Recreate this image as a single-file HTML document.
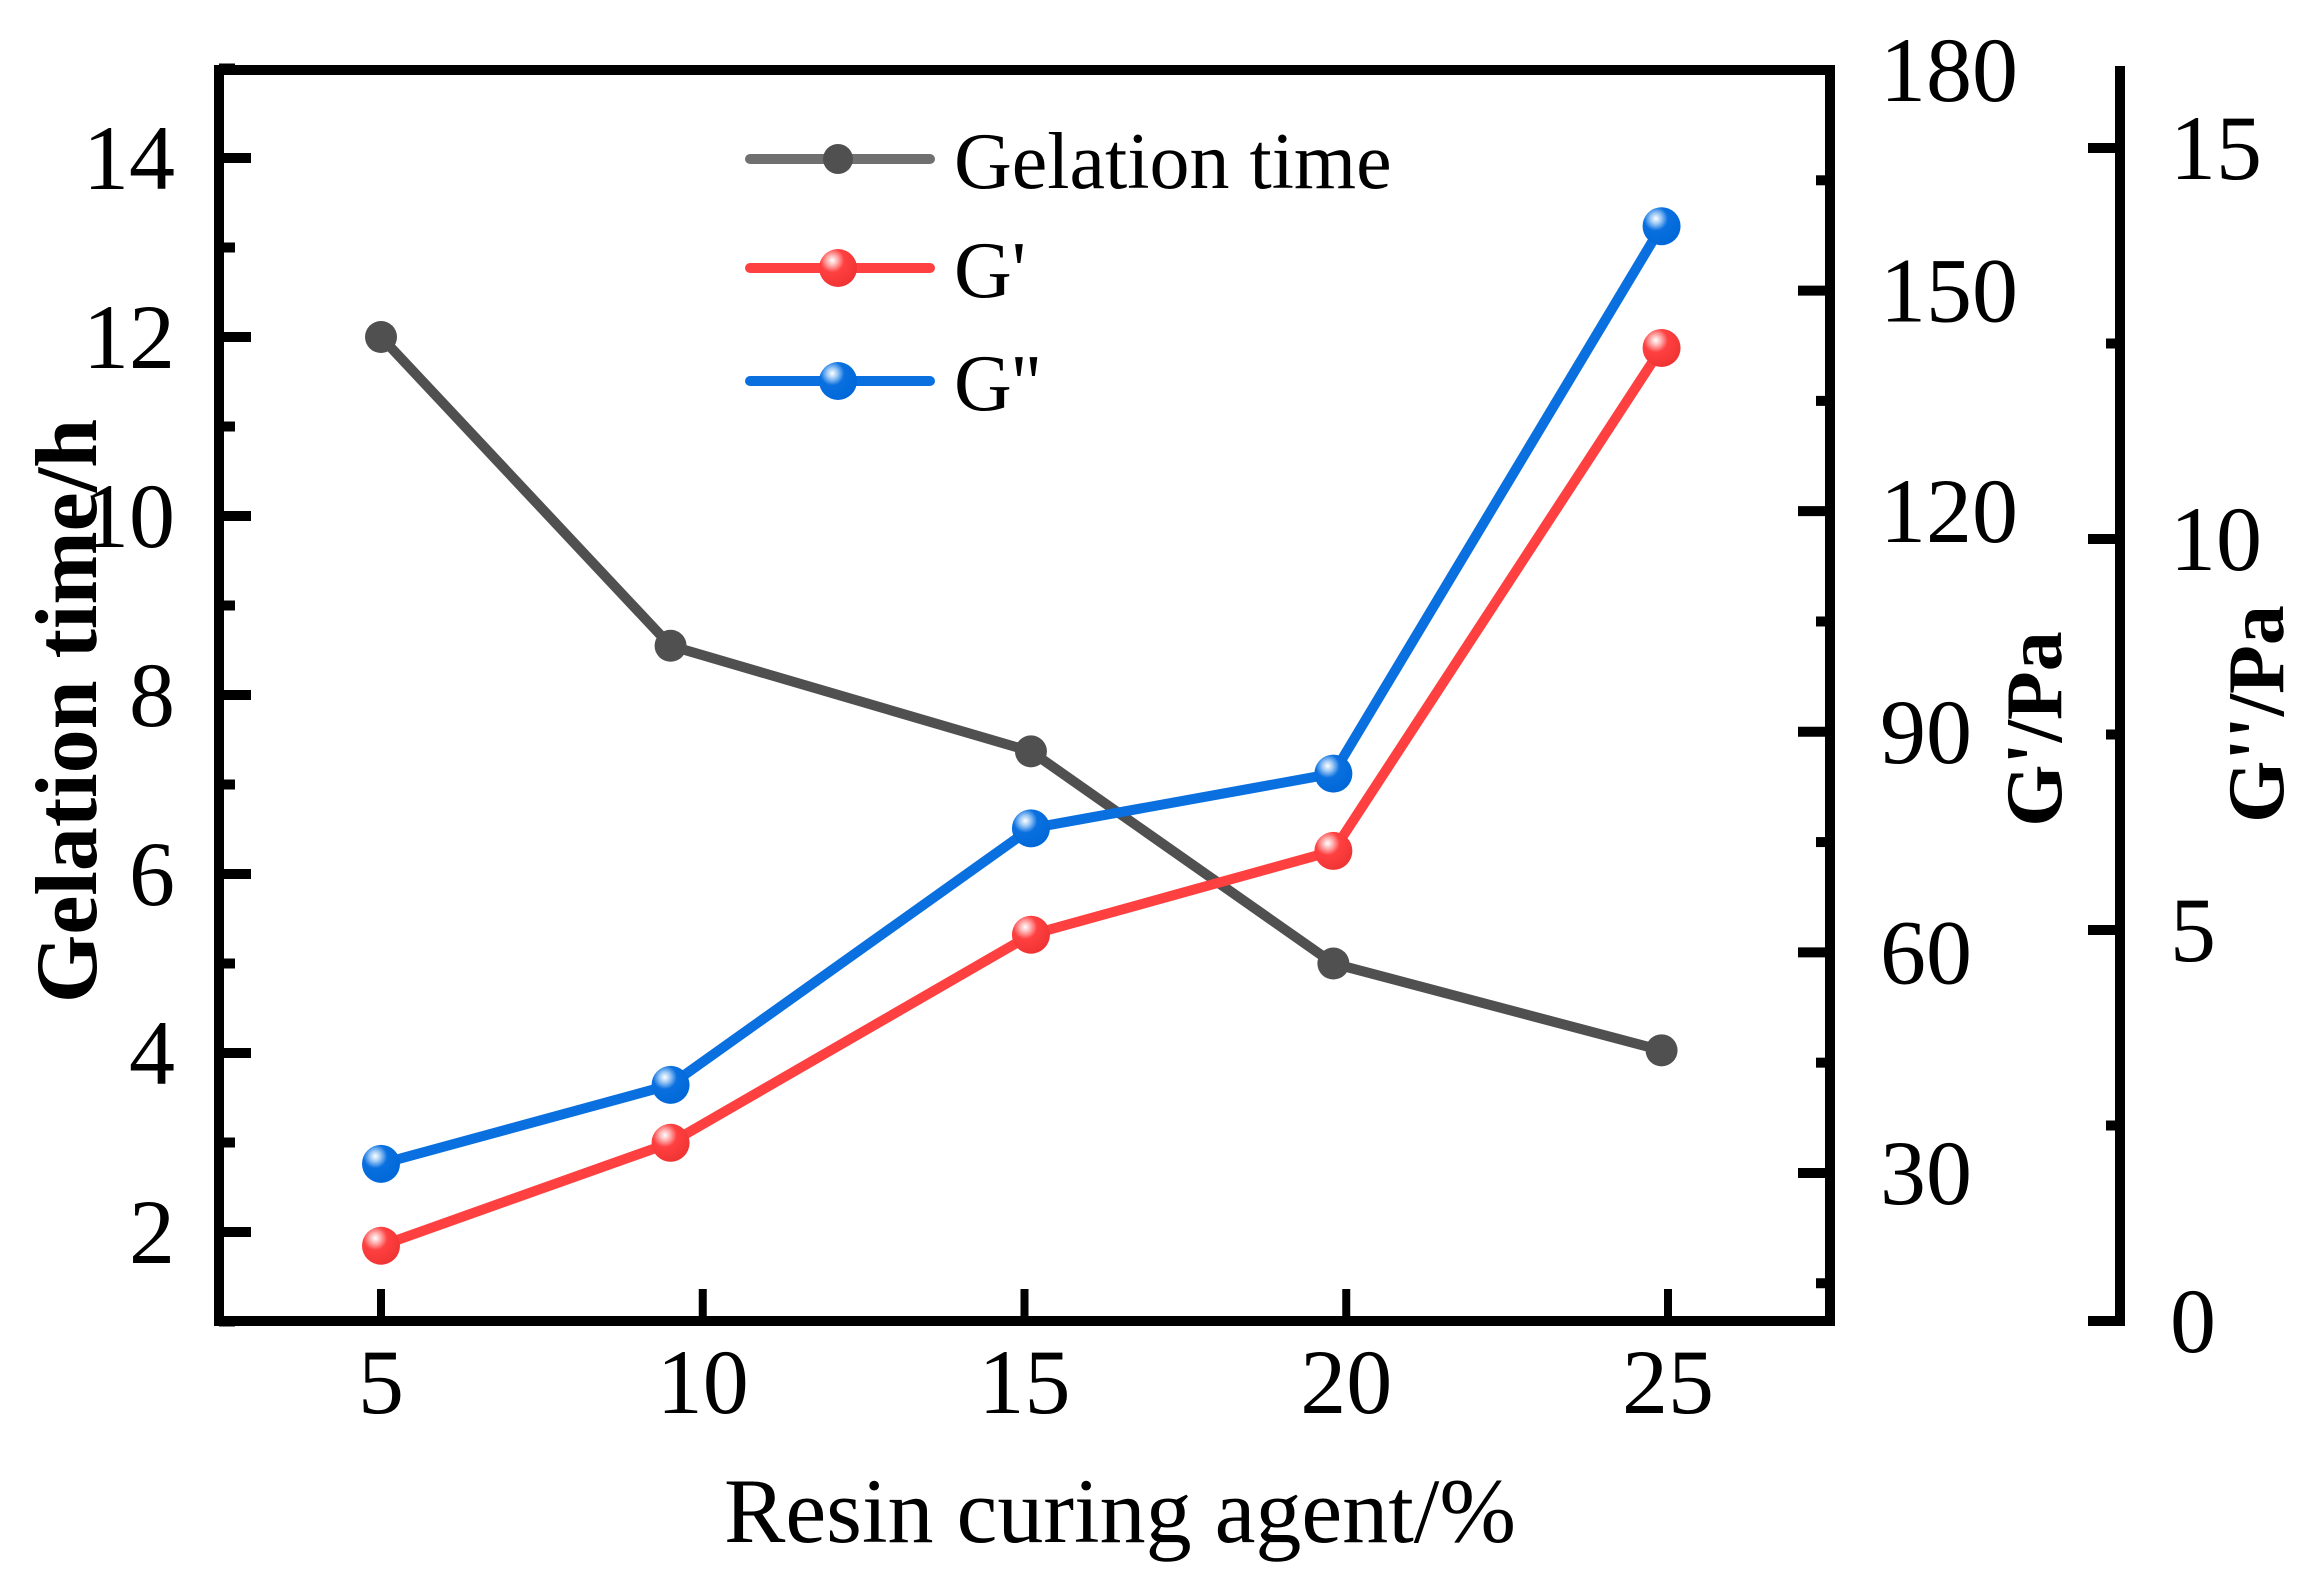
<!DOCTYPE html>
<html><head><meta charset="utf-8"><style>
html,body{margin:0;padding:0;background:#fff;}
svg{display:block;font-family:"Liberation Serif",serif;}
</style></head><body>
<svg id="chart" width="2320" height="1591" viewBox="0 0 2320 1591">
<defs>
<radialGradient id="gRed" cx="0.35" cy="0.3" r="0.7"><stop offset="0" stop-color="#fff"/><stop offset="0.2" stop-color="#ffb0b0"/><stop offset="0.45" stop-color="#ff4040"/><stop offset="1" stop-color="#f03434"/></radialGradient>
<radialGradient id="gBlue" cx="0.35" cy="0.3" r="0.7"><stop offset="0" stop-color="#fff"/><stop offset="0.2" stop-color="#9cc8f5"/><stop offset="0.45" stop-color="#0a70e0"/><stop offset="1" stop-color="#0068d8"/></radialGradient>
</defs>
<g id="plot"></g>
</svg>
<script>
const categories = [5, 9.5, 15.1, 19.8, 24.9];
const gelationTime = [12.0, 8.55, 7.37, 5.0, 4.03];
const gPrime = [20.1, 34.1, 62.4, 73.8, 142.2];
const gDoublePrime = [2.01, 3.02, 6.3, 7.0, 14.0];
const xTicks = [5, 10, 15, 20, 25];
const leftTicks = [2, 4, 6, 8, 10, 12, 14];
const gpTicks = [30, 60, 90, 120, 150, 180];
const gppTicks = [0, 5, 10, 15];

const L = 219, R = 1830, T = 70, B = 1321, R2 = 2120;
const xs = v => 381 + (v - 5) * 64.35;
const yL = v => 1232 - (v - 2) * 89.5;
const yGp = v => 70 + (180 - v) * 7.353;
const yGpp = v => 1321 - v * 78.2;

const svg = document.getElementById('plot');
const NS = 'http://www.w3.org/2000/svg';
function mk(tag, attrs, parent) {
  const e = document.createElementNS(NS, tag);
  for (const k in attrs) e.setAttribute(k, attrs[k]);
  (parent || svg).appendChild(e);
  return e;
}
function txt(s, attrs) { const t = mk('text', attrs); t.textContent = s; return t; }

let f = mk('rect', {x: L, y: T, width: R - L, height: B - T, fill: 'none', stroke: '#000', 'stroke-width': 10});


let a2 = mk('line', {x1: R2, y1: 66, x2: R2, y2: B + 5, stroke: '#000', 'stroke-width': 10});



xTicks.forEach(v => {
  const x = xs(v);
  let t = mk('line', {x1: x, y1: B, x2: x, y2: B - 32, stroke: '#000', 'stroke-width': 8});
  
  
  let l = txt(String(v), {x: x, y: 1413, 'font-size': 92, 'text-anchor': 'middle'});
  
  
});
for (let v = 1; v <= 15; v++) {
  const y = yL(v);
  const major = v % 2 === 0;
  let t = mk('line', {x1: L, y1: y, x2: L + (major ? 32 : 16), y2: y, stroke: '#000', 'stroke-width': 10});
  
  
}
leftTicks.forEach(v => {
  let l = txt(String(v), {x: 175, y: yL(v) + 31, 'font-size': 92, 'text-anchor': 'end'});
  
  
});
for (let v = 15; v <= 180; v += 15) {
  const y = yGp(v);
  const major = v % 30 === 0;
  let t = mk('line', {x1: R, y1: y, x2: R - (major ? 32 : 14), y2: y, stroke: '#000', 'stroke-width': 10});
  
  
}
gpTicks.forEach(v => {
  let l = txt(String(v), {x: 1880, y: yGp(v) + 31, 'font-size': 92});
  
  
});
for (let v = 0; v <= 15; v += 2.5) {
  const y = yGpp(v);
  const major = v % 5 === 0;
  let t = mk('line', {x1: R2, y1: y, x2: R2 - (major ? 32 : 14), y2: y, stroke: '#000', 'stroke-width': 10});
  
  
}
gppTicks.forEach(v => {
  let l = txt(String(v), {x: 2170, y: yGpp(v) + 31, 'font-size': 92});
  
  
});

let xt = txt('Resin curing agent/%', {x: 1120, y: 1542, 'font-size': 92, 'text-anchor': 'middle'});


let yt = txt('Gelation time/h', {x: 0, y: 0, 'font-size': 88, 'font-weight': 'bold', 'text-anchor': 'middle', transform: 'translate(96,711) rotate(-90)'});


let gt = txt("G'/Pa", {x: 0, y: 0, 'font-size': 80, 'font-weight': 'bold', 'text-anchor': 'middle', transform: 'translate(2061,729) rotate(-90)'});


let gt2 = txt("G''/Pa", {x: 0, y: 0, 'font-size': 80, 'font-weight': 'bold', 'text-anchor': 'middle', transform: 'translate(2283,714) rotate(-90)'});



function series(vals, yf, color, fill, r, name) {
  const pts = vals.map((v, i) => xs(categories[i]) + ',' + yf(v)).join(' ');
  let pl = mk('polyline', {points: pts, fill: 'none', stroke: color, 'stroke-width': 10, 'stroke-linejoin': 'round'});
  
  
  vals.forEach((v, i) => {
    let c = mk('circle', {cx: xs(categories[i]), cy: yf(v), r: r, fill: fill});
    
    
  });
}
series(gelationTime, yL, '#505050', '#505050', 16, 'gelation-time');
series(gDoublePrime, yGpp, '#0a70e0', 'url(#gBlue)', 19, 'g-double-prime');
series(gPrime, yGp, '#ff4040', 'url(#gRed)', 19, 'g-prime');

const legend = [['Gelation time', '#707070', '#505050', 15, 159], ["G'", '#ff4040', 'url(#gRed)', 19, 268], ["G''", '#0a70e0', 'url(#gBlue)', 19, 381]];
legend.forEach(e => {
  let ln = mk('line', {x1: 750, y1: e[4], x2: 930, y2: e[4], stroke: e[1], 'stroke-width': 10, 'stroke-linecap': 'round'});
  
  
  let c = mk('circle', {cx: 838, cy: e[4], r: e[3], fill: e[2]});
  
  
  let t = txt(e[0], {x: 954, y: e[4] + 29, 'font-size': 80});
  
  
});
</script>
</body></html>
